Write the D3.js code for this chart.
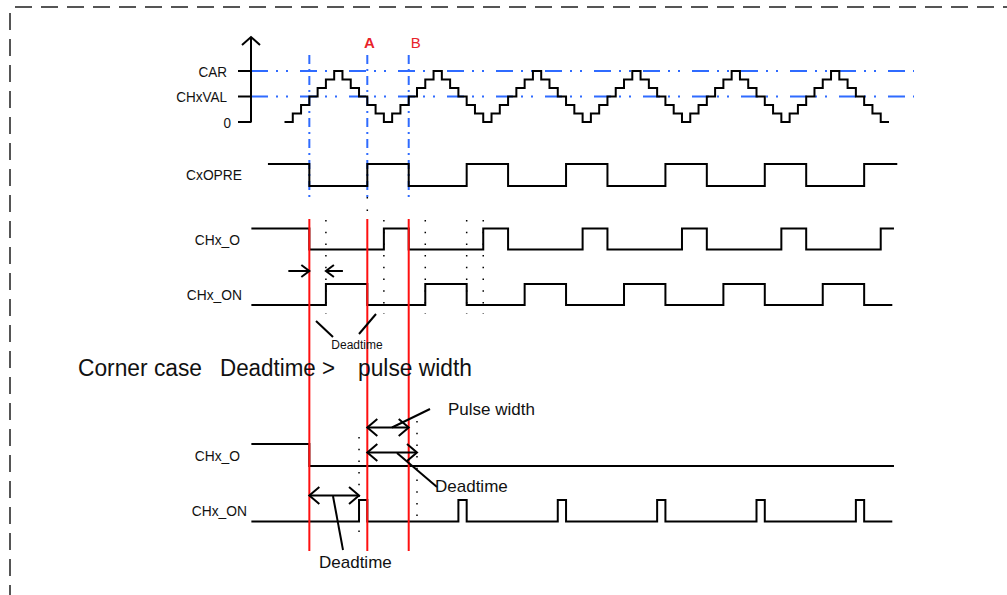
<!DOCTYPE html>
<html><head><meta charset="utf-8">
<script src="https://cdn.jsdelivr.net/npm/d3@7"></script>
<style>body{margin:0;background:#fff}svg{display:block}text{font-family:"Liberation Sans",Arial,sans-serif}</style>
</head><body><svg id="c" width="1007" height="595"></svg>
<script>
// ---- data (time in counter ticks) ----
const counterValues = [0,1,2,3,4,5,6,5,4,3,2,1, 0,1,2,3,4,5,6,5,4,3,2,1,
  0,1,2,3,4,5,6,5,4,3,2,1, 0,1,2,3,4,5,6,5,4,3,2,1,
  0,1,2,3,4,5,6,5,4,3,2,1, 0,1,2,3,4,5,6,5,4,3,2,1, 0];
const levelTicks = [{label:"CAR", v:6},{label:"CHxVAL", v:3},{label:"0", v:0}];
const cxopre   = {start:-2, init:1, edges:[3,10,15,22,27,34,39,46,51,58,63,70], end:74};
const chxO     = {start:-4, init:1, edges:[3,12,15,24,27,36,39,48,51,60,63,72], end:73.6};
const chxON    = {start:-4, init:0, edges:[5,10,17,22,29,34,41,46,53,58,65,70], end:73.4};
const chxO2    = {start:-4, init:1, edges:[3], end:73.6};
const chxON2   = {start:-4, init:0, edges:[9,10,21,22,33,34,45,46,57,58,69,70], end:73.4};
const markTimes = [{label:"A", t:10},{label:"B", t:15}];
const crossTimes = [3,10,15];
const dotTimesUpper = [5,12,17,22,24];
const dotTimesLower = [9,16];

const svg = d3.select("#c");
const x = d3.scaleLinear().domain([0,73]).range([284.5,889]);
const yc = d3.scaleLinear().domain([0,6]).range([122,71]);

function squeeze(sel, f){ sel.each(function(){ const w=this.getComputedTextLength(); d3.select(this).attr("textLength",w*f).attr("lengthAdjust","spacingAndGlyphs"); }); return sel; }

// dashed frame
svg.append("line").attr("x1",15).attr("y1",7).attr("x2",1010).attr("y2",7)
  .attr("stroke","#555").attr("stroke-width",2).attr("stroke-dasharray","17,9");
svg.append("line").attr("x1",10).attr("y1",13).attr("x2",10).attr("y2",600)
  .attr("stroke","#555").attr("stroke-width",2).attr("stroke-dasharray","17,9");

const blue = "#2f6bff";
levelTicks.filter(d=>d.v>0).forEach(d=>{
  svg.append("line").attr("x1",251).attr("x2",914).attr("y1",yc(d.v)).attr("y2",yc(d.v))
    .attr("stroke",blue).attr("stroke-width",2).attr("stroke-dasharray","17,8,2,8,2,12");
});
crossTimes.forEach(t=>{
  svg.append("line").attr("x1",x(t)).attr("x2",x(t)).attr("y1",55).attr("y2",199)
    .attr("stroke",blue).attr("stroke-width",2).attr("stroke-dasharray","9,5,2,5");
});
svg.append("line").attr("x1",x(10)).attr("x2",x(10)).attr("y1",197).attr("y2",214)
  .attr("stroke","#000").attr("stroke-width",1.5).attr("stroke-dasharray","1.5,11");

// axis
svg.append("line").attr("x1",251).attr("x2",251).attr("y1",37).attr("y2",122.5).attr("stroke","#000").attr("stroke-width",2);
svg.append("path").attr("d","M242,45 L251,37 L260,45").attr("fill","none").attr("stroke","#000").attr("stroke-width",2);
levelTicks.forEach(d=>{
  svg.append("line").attr("x1",238).attr("x2",251).attr("y1",yc(d.v)).attr("y2",yc(d.v)).attr("stroke","#000").attr("stroke-width",2);
  squeeze(svg.append("text").attr("x",d.v===0?231:227).attr("y",yc(d.v)+5.5).attr("text-anchor","end")
    .attr("font-size",15).attr("fill","#111").text(d.label), 0.9);
});

// counter staircase
const cpts = counterValues.map((v,k)=>[k,v]); cpts.push([73, counterValues[72]]);
svg.append("path").attr("d", d3.line().x(d=>x(d[0])).y(d=>yc(d[1])).curve(d3.curveStepAfter)(cpts))
  .attr("fill","none").attr("stroke","#000").attr("stroke-width",2);

// markers A B
markTimes.forEach((m,i)=>{
  svg.append("text").attr("x",x(m.t)+(i?7:2)).attr("y",47.5).attr("text-anchor","middle")
    .attr("font-size",15).attr("font-weight",i?"normal":"bold").attr("fill","#e8232a").text(m.label);
});

// signals
function sig(s, yHigh, yLow){
  const pts=[[s.start,s.init]]; let l=s.init;
  s.edges.forEach(e=>{ l=1-l; pts.push([e,l]); });
  pts.push([s.end,l]);
  svg.append("path").attr("d", d3.line().x(d=>x(d[0])).y(d=>d[1]?yHigh:yLow).curve(d3.curveStepAfter)(pts))
    .attr("fill","none").attr("stroke","#000").attr("stroke-width",2);
}
const rows = [
  {name:"CxOPRE", s:cxopre, hi:164, lo:186, lx:242},
  {name:"CHx_O", s:chxO, hi:228.5, lo:249.5, lx:240},
  {name:"CHx_ON", s:chxON, hi:284, lo:305, lx:242},
  {name:"CHx_O", s:chxO2, hi:444, lo:466, lx:240},
  {name:"CHx_ON", s:chxON2, hi:500, lo:521.5, lx:247}
];
rows.forEach(r=>{
  sig(r.s, r.hi, r.lo);
  squeeze(svg.append("text").attr("x",r.lx).attr("y",(r.hi+r.lo)/2+5.5+(r.name==="CxOPRE"?-1:0)).attr("text-anchor","end")
    .attr("font-size",15).attr("fill","#111").text(r.name), 0.92);
});

// dotted helper lines
dotTimesUpper.forEach(t=>{
  svg.append("line").attr("x1",x(t)).attr("x2",x(t)).attr("y1",220).attr("y2",314)
    .attr("stroke","#000").attr("stroke-width",1.5).attr("stroke-dasharray","1.5,10.2");
});
svg.append("line").attr("x1",x(dotTimesLower[0])).attr("x2",x(dotTimesLower[0])).attr("y1",437).attr("y2",536)
  .attr("stroke","#000").attr("stroke-width",1.5).attr("stroke-dasharray","1.5,10.2");
svg.append("line").attr("x1",x(dotTimesLower[1])).attr("x2",x(dotTimesLower[1])).attr("y1",421).attr("y2",518)
  .attr("stroke","#000").attr("stroke-width",1.5).attr("stroke-dasharray","1.5,10.2");

// red lines
crossTimes.forEach(t=>{
  svg.append("line").attr("x1",x(t)).attr("x2",x(t)).attr("y1",219).attr("y2",551)
    .attr("stroke","#ff1010").attr("stroke-width",2);
});

// arrows
function head(tx,ty,dir,len,half){
  svg.append("path").attr("d",`M${tx-dir*len},${ty-half} L${tx},${ty} L${tx-dir*len},${ty+half}`)
    .attr("fill","none").attr("stroke","#000").attr("stroke-width",2);
}
function seg(x1,y1,x2,y2){
  svg.append("line").attr("x1",x1).attr("y1",y1).attr("x2",x2).attr("y2",y2).attr("stroke","#000").attr("stroke-width",2);
}
seg(x(3)-21,271,x(3),271); head(x(3),271,1,8,6);
seg(x(5)+17,271,x(5),271); head(x(5),271,-1,8,6);
function dbl(t1,t2,y){ seg(x(t1),y,x(t2),y); head(x(t2),y,1,10,8.5); head(x(t1),y,-1,10,8.5); }
dbl(10,15,427.5); dbl(10,16,452.5); dbl(3,9,495.5);

// leader lines + labels
seg(316,321,333,337); seg(376,314,359,334);
svg.append("text").attr("x",357).attr("y",349).attr("text-anchor","middle").attr("font-size",12).attr("fill","#111").text("Deadtime");
seg(430,409,392,427.5);
svg.append("text").attr("x",448).attr("y",415).attr("font-size",17).attr("fill","#111").text("Pulse width");
seg(397,453,437,487);
svg.append("text").attr("x",435).attr("y",492).attr("font-size",17).attr("fill","#111").text("Deadtime");
seg(333,496,343,550);
svg.append("text").attr("x",319).attr("y",568).attr("font-size",17).attr("fill","#111").text("Deadtime");

// corner case title
const title = [{t:"Corner case", x:78, w:124},{t:"Deadtime >", x:220, w:115},{t:"pulse width", x:358, w:114}];
title.forEach(d=>{
  svg.append("text").attr("x",d.x).attr("y",376).attr("font-size",23).attr("fill","#111")
    .attr("textLength",d.w).attr("lengthAdjust","spacingAndGlyphs").text(d.t);
});
</script></body></html>
